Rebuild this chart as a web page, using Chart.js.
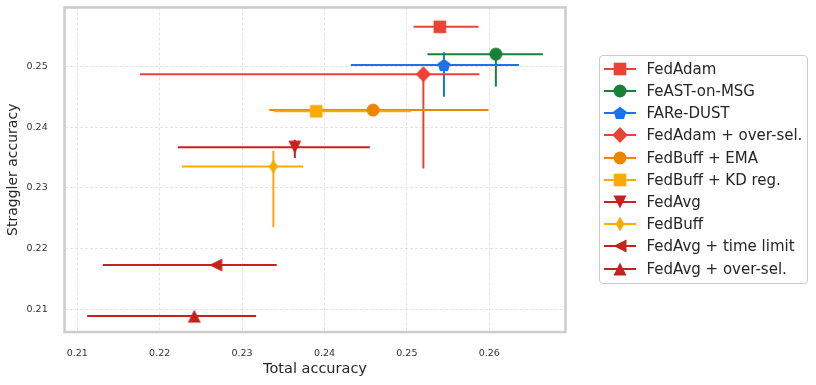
<!DOCTYPE html>
<html>
<head>
<meta charset="utf-8">
<script src="https://cdn.jsdelivr.net/npm/chart.js@4.4.0/dist/chart.umd.min.js"></script>
<style>
  html, body { margin: 0; padding: 0; background: #fff; }
  #wrap { position: relative; width: 816px; height: 385px; }
  #chart { display: block; }
  #legend {
    position: absolute; left: 599px; top: 55px; width: 209px; height: 229px;
    box-sizing: border-box; border: 1.5px solid #ccc; border-radius: 4px; background: #fff;
    padding-top: 1.8px; font: 15px 'DejaVu Sans', sans-serif; color: #262626;
  }
  .row { display: flex; align-items: center; height: 22.2px; white-space: nowrap; }
  .row canvas { margin-left: 3.5px; margin-right: 11px; }
</style>
</head>
<body>
<div id="wrap">
  <canvas id="chart" width="816" height="385"></canvas>
  <div id="legend"></div>
</div>
<script>
// values
const methods = ['FedAdam', 'FeAST-on-MSG', 'FARe-DUST', 'FedAdam + over-sel.', 'FedBuff + EMA',
  'FedBuff + KD reg.', 'FedAvg', 'FedBuff', 'FedAvg + time limit', 'FedAvg + over-sel.'];
const totalAcc     = [0.2540, 0.2608, 0.2545, 0.2520, 0.2459, 0.2390, 0.2364, 0.2338, 0.2268, 0.2242];
const totalLow     = [0.2508, 0.2525, 0.2432, 0.2176, 0.2333, 0.2339, 0.2222, 0.2227, 0.2131, 0.2112];
const totalHigh    = [0.2587, 0.2665, 0.2636, 0.2588, 0.2599, 0.2505, 0.2455, 0.2374, 0.2342, 0.2317];
const stragglerAcc = [0.2565, 0.2520, 0.2502, 0.2487, 0.2428, 0.2426, 0.2367, 0.2335, 0.2173, 0.2089];
const stragglerLow = [0.2565, 0.2467, 0.2450, 0.2332, 0.2428, 0.2426, 0.2349, 0.2235, 0.2173, 0.2089];
const stragglerHigh= [0.2565, 0.2520, 0.2523, 0.2487, 0.2428, 0.2426, 0.2379, 0.2361, 0.2173, 0.2089];
const xTicks = [0.21, 0.22, 0.23, 0.24, 0.25, 0.26];
const yTicks = [0.21, 0.22, 0.23, 0.24, 0.25];

const colors = ['#EA4335', '#188038', '#1A73E8', '#EA4335', '#EA8600',
  '#F9AB00', '#C5221F', '#F9AB00', '#C5221F', '#C5221F'];
const shapes = ['square', 'circle', 'pentagon', 'diamond', 'circle',
  'square', 'triDown', 'thinDiamond', 'triLeft', 'triUp'];

function markerCanvas(shape, color, withLine) {
  const w = withLine ? 32 : 20, h = 20;
  const c = document.createElement('canvas');
  c.width = w; c.height = h;
  const g = c.getContext('2d');
  const cx = w / 2, cy = h / 2;
  if (withLine) {
    g.strokeStyle = color; g.lineWidth = 2;
    g.beginPath(); g.moveTo(0, cy); g.lineTo(w, cy); g.stroke();
  }
  g.fillStyle = color;
  g.beginPath();
  const poly = (pts) => { g.moveTo(cx + pts[0][0], cy + pts[0][1]); pts.slice(1).forEach(p => g.lineTo(cx + p[0], cy + p[1])); g.closePath(); };
  switch (shape) {
    case 'square': g.rect(cx - 6.3, cy - 6.3, 12.6, 12.6); break;
    case 'circle': g.arc(cx, cy, 6.5, 0, Math.PI * 2); break;
    case 'pentagon': {
      const pts = [];
      for (let k = 0; k < 5; k++) {
        const a = -Math.PI / 2 + k * 2 * Math.PI / 5;
        pts.push([6.8 * Math.cos(a), 6.8 * Math.sin(a) + 0.6]);
      }
      poly(pts); break;
    }
    case 'diamond': poly([[0, -8], [7.7, 0], [0, 8], [-7.7, 0]]); break;
    case 'thinDiamond': poly([[0, -7.2], [4.5, 0], [0, 7.2], [-4.5, 0]]); break;
    case 'triUp': poly([[0, -6.5], [6.5, 6.5], [-6.5, 6.5]]); break;
    case 'triDown': poly([[0, 6.5], [6.5, -6.5], [-6.5, -6.5]]); break;
    case 'triLeft': poly([[-6.5, 0], [6.5, -6.5], [6.5, 6.5]]); break;
  }
  g.fill();
  return c;
}

// legend
const legendEl = document.getElementById('legend');
methods.forEach((m, i) => {
  const row = document.createElement('div');
  row.className = 'row';
  row.appendChild(markerCanvas(shapes[i], colors[i], true));
  const span = document.createElement('span');
  span.textContent = m;
  row.appendChild(span);
  legendEl.appendChild(row);
});

const errorBars = {
  id: 'errorBars',
  beforeDatasetsDraw(chart) {
    const { ctx, chartArea: a, scales: { x, y } } = chart;
    ctx.save();
    ctx.beginPath();
    ctx.rect(a.left, a.top, a.right - a.left, a.bottom - a.top);
    ctx.clip();
    ctx.lineWidth = 2;
    methods.forEach((m, i) => {
      const px = x.getPixelForValue(totalAcc[i]);
      const py = y.getPixelForValue(stragglerAcc[i]);
      ctx.strokeStyle = colors[i];
      ctx.beginPath();
      ctx.moveTo(x.getPixelForValue(totalLow[i]), py);
      ctx.lineTo(x.getPixelForValue(totalHigh[i]), py);
      if (stragglerHigh[i] !== stragglerLow[i]) {
        ctx.moveTo(px, y.getPixelForValue(stragglerLow[i]));
        ctx.lineTo(px, y.getPixelForValue(stragglerHigh[i]));
      }
      ctx.stroke();
    });
    ctx.restore();
  }
};

const frame = {
  id: 'frame',
  afterDraw(chart) {
    const { ctx, chartArea: a } = chart;
    ctx.save();
    ctx.strokeStyle = '#cccccc';
    ctx.lineWidth = 2.5;
    ctx.strokeRect(a.left, a.top, a.right - a.left, a.bottom - a.top);
    ctx.restore();
  }
};

const sans = "'DejaVu Sans', sans-serif";
const tickFont = { family: sans, size: 9.5 };

new Chart(document.getElementById('chart'), {
  type: 'scatter',
  data: {
    datasets: methods.map((m, i) => ({
      label: m,
      data: [{ x: totalAcc[i], y: stragglerAcc[i] }],
      pointStyle: markerCanvas(shapes[i], colors[i], false),
      pointRadius: 7,
      pointHoverRadius: 7,
      backgroundColor: colors[i],
      borderColor: colors[i],
      order: methods.length - i
    }))
  },
  options: {
    responsive: false,
    animation: false,
    devicePixelRatio: 1,
    layout: { autoPadding: false, padding: { top: 7.5, right: 250.5, left: 0, bottom: 0 } },
    plugins: { legend: { display: false }, tooltip: { enabled: false } },
    scales: {
      x: {
        type: 'linear', min: 0.20845, max: 0.26925,
        afterFit: (s) => { s.height = 53; s.paddingLeft = 0; s.paddingRight = 0; },
        afterBuildTicks: (s) => { s.ticks = xTicks.map((v) => ({ value: v })); },
        ticks: { color: '#333', font: tickFont, padding: 15.5, maxRotation: 0, callback: (v) => Number(v).toFixed(2) },
        grid: { color: '#dddddd', lineWidth: 0.8, drawTicks: false },
        border: { display: false, dash: [3, 2] },
        title: { display: true, text: 'Total accuracy', color: '#262626',
          font: { family: sans, size: 14.5 },
          padding: { top: 0, bottom: 7.2 } }
      },
      y: {
        type: 'linear', min: 0.20628, max: 0.25968,
        afterFit: (s) => { s.width = 64.5; s.paddingTop = 0; s.paddingBottom = 0; },
        afterBuildTicks: (s) => { s.ticks = yTicks.map((v) => ({ value: v })); },
        ticks: { color: '#333', font: tickFont, padding: 16.8, callback: (v) => Number(v).toFixed(2) },
        grid: { color: '#dddddd', lineWidth: 0.8, drawTicks: false },
        border: { display: false, dash: [3, 2] },
        title: { display: true, text: 'Straggler accuracy', color: '#262626',
          font: { family: sans, size: 14 },
          padding: { top: 5.1, bottom: 0 } }
      }
    }
  },
  plugins: [errorBars, frame]
});
</script>
</body>
</html>
